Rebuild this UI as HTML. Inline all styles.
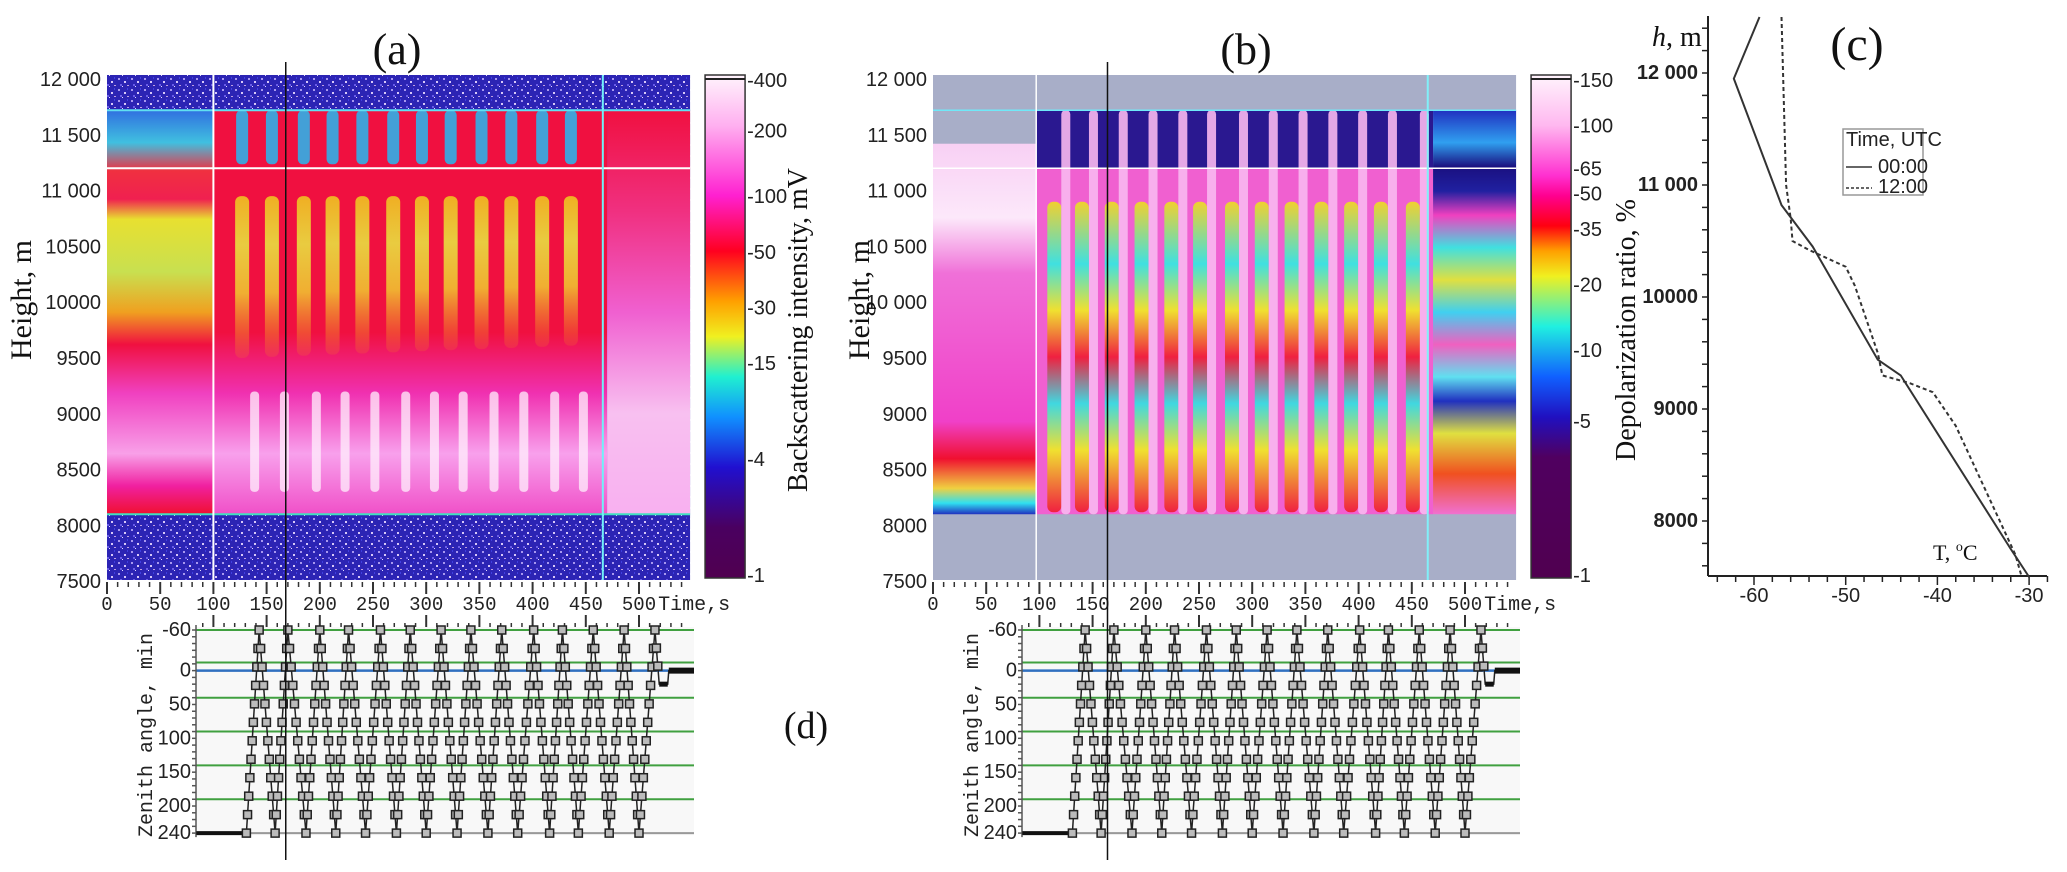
<!DOCTYPE html>
<html><head><meta charset="utf-8"><style>
body{margin:0;background:#fff;}
svg{display:block;}
.tk{font-family:"Liberation Sans",sans-serif;font-size:20px;fill:#222;}
.mono{font-family:"Liberation Mono",monospace;fill:#222;}
.serif{font-family:"Liberation Serif",serif;fill:#111;}
</style></head><body>
<svg id="fig" width="2067" height="872" viewBox="0 0 2067 872" xmlns="http://www.w3.org/2000/svg">
<defs>
<pattern id="noise" width="13" height="11" patternUnits="userSpaceOnUse">
<rect width="13" height="11" fill="#2c24b4"/>
<rect x="1" y="1" width="2" height="2" fill="#a898f0"/>
<rect x="7" y="4" width="2" height="2" fill="#d8c8f8"/>
<rect x="3" y="7" width="2" height="2" fill="#6a5ce8"/>
<rect x="10" y="8" width="2" height="1" fill="#c0a0e0"/>
<rect x="10" y="0" width="1" height="2" fill="#4040e0"/>
<rect x="5" y="9" width="1" height="1" fill="#e0d8ff"/>
</pattern>
<linearGradient id="cbA" x1="0" y1="0" x2="0" y2="1">
<stop offset="0" stop-color="#fff4fc"/><stop offset="0.1" stop-color="#ffb0f0"/><stop offset="0.24" stop-color="#ff20d0"/>
<stop offset="0.35" stop-color="#ff0020"/><stop offset="0.45" stop-color="#ffa000"/><stop offset="0.52" stop-color="#f0f020"/>
<stop offset="0.6" stop-color="#20f0d0"/><stop offset="0.68" stop-color="#1090ff"/><stop offset="0.78" stop-color="#2010d0"/>
<stop offset="0.9" stop-color="#4a0060"/><stop offset="1" stop-color="#500050"/></linearGradient>
<linearGradient id="cbB" x1="0" y1="0" x2="0" y2="1">
<stop offset="0" stop-color="#fff4fc"/><stop offset="0.1" stop-color="#ffb8f0"/><stop offset="0.2" stop-color="#ff30d0"/>
<stop offset="0.24" stop-color="#ff0090"/><stop offset="0.3" stop-color="#ff0010"/><stop offset="0.35" stop-color="#ffa000"/>
<stop offset="0.4" stop-color="#f0f020"/><stop offset="0.5" stop-color="#20f0e0"/><stop offset="0.6" stop-color="#1060ff"/>
<stop offset="0.68" stop-color="#2010c0"/><stop offset="0.76" stop-color="#500060"/><stop offset="1" stop-color="#500050"/></linearGradient>
<linearGradient id="aLeft" x1="0" y1="0" x2="0" y2="1">
<stop offset="0" stop-color="#3070e0"/><stop offset="0.08" stop-color="#40c0e0"/><stop offset="0.15" stop-color="#f03040"/>
<stop offset="0.22" stop-color="#f02050"/><stop offset="0.27" stop-color="#e8e030"/><stop offset="0.4" stop-color="#c8e050"/>
<stop offset="0.5" stop-color="#f0a020"/><stop offset="0.58" stop-color="#f01040"/><stop offset="0.7" stop-color="#f040c0"/>
<stop offset="0.85" stop-color="#f8a0e8"/><stop offset="0.93" stop-color="#f020a0"/><stop offset="1" stop-color="#f01030"/></linearGradient>
<linearGradient id="aMid" x1="0" y1="0" x2="0" y2="1">
<stop offset="0" stop-color="#f01040"/><stop offset="0.55" stop-color="#f01040"/><stop offset="0.7" stop-color="#f030b0"/>
<stop offset="0.85" stop-color="#f8a0ec"/><stop offset="1" stop-color="#f050c8"/></linearGradient>
<linearGradient id="aRight" x1="0" y1="0" x2="0" y2="1">
<stop offset="0" stop-color="#f01040"/><stop offset="0.25" stop-color="#f03080"/><stop offset="0.5" stop-color="#f060d0"/>
<stop offset="0.75" stop-color="#f8c0f0"/><stop offset="1" stop-color="#f8b0f0"/></linearGradient>
<linearGradient id="bLeft" x1="0" y1="0" x2="0" y2="1">
<stop offset="0" stop-color="#f8d0f4"/><stop offset="0.2" stop-color="#fce8fa"/><stop offset="0.35" stop-color="#f070d8"/>
<stop offset="0.75" stop-color="#f040c8"/><stop offset="0.85" stop-color="#f01030"/><stop offset="0.93" stop-color="#f0d040"/>
<stop offset="0.97" stop-color="#30e0f0"/><stop offset="1" stop-color="#2030c0"/></linearGradient>
<linearGradient id="bRight" x1="0" y1="0" x2="0" y2="1">
<stop offset="0" stop-color="#2030c0"/><stop offset="0.08" stop-color="#30a0f0"/><stop offset="0.14" stop-color="#1a1080"/>
<stop offset="0.2" stop-color="#2020a0"/><stop offset="0.26" stop-color="#f040c0"/><stop offset="0.34" stop-color="#40e0e0"/>
<stop offset="0.42" stop-color="#e0e040"/><stop offset="0.5" stop-color="#40d0f0"/><stop offset="0.58" stop-color="#f060c0"/>
<stop offset="0.66" stop-color="#60e0f0"/><stop offset="0.72" stop-color="#2030c0"/><stop offset="0.8" stop-color="#e0e040"/>
<stop offset="0.9" stop-color="#f05020"/><stop offset="1" stop-color="#f070d0"/></linearGradient>
<linearGradient id="colA" x1="0" y1="0" x2="0" y2="1">
<stop offset="0" stop-color="#f0c020"/><stop offset="0.3" stop-color="#e8e040"/><stop offset="0.6" stop-color="#f0c030"/><stop offset="1" stop-color="#f08020" stop-opacity="0.2"/></linearGradient>
<linearGradient id="colB" x1="0" y1="0" x2="0" y2="1">
<stop offset="0" stop-color="#f0d030"/><stop offset="0.2" stop-color="#40e0e0"/><stop offset="0.35" stop-color="#f0e030"/>
<stop offset="0.5" stop-color="#f02040"/><stop offset="0.65" stop-color="#40d8e0"/><stop offset="0.8" stop-color="#f0e030"/><stop offset="1" stop-color="#f02040"/></linearGradient>
</defs>
<g id="layer"></g>
</svg>
<script>
// ---- data ----
const timeTicks = [0,50,100,150,200,250,300,350,400,450,500];
const heightTicksA = ["12 000","11 500","11 000","10500","10000","9500","9000","8500","8000","7500"];
const heightTicksB = ["12 000","11 500","11 000","10 500","10 000","9500","9000","8500","8000","7500"];
const heightVals = [12000,11500,11000,10500,10000,9500,9000,8500,8000,7500];
const colTimesA = [127,155,185,212,240,269,296,323,352,380,409,436];
const colTimesB = [114,140,168,196,224,251,281,309,337,365,393,421,451];
const cbLabelsA = ["-400","-200","-100","-50","-30","-15","-4","-1"];
const cbFracA = [0.01,0.11,0.24,0.35,0.46,0.57,0.76,0.99];
const cbLabelsB = ["-150","-100","-65","-50","-35","-20","-10","-5","-1"];
const cbFracB = [0.01,0.10,0.185,0.235,0.305,0.415,0.545,0.685,0.99];
const zenTimes = [84,131,143,158,170,187,200,215,227,243,257,272,285,300,314,329,342,358,371,386,401,416,428,443,457,472,486,500,515,519,527,528,548];
const zenVals  = [240,240,-60,240,-60,240,-60,240,-60,240,-60,240,-60,240,-60,240,-60,240,-60,240,-60,240,-60,240,-60,240,-60,240,-60,20,20,0,0];
const zenTicks = [-60,0,50,100,150,200,240];
const greenLevels = [-60,-12,40,90,140,190];
const tempTicks = [-60,-50,-40,-30];
const hTicksC = [12000,11000,10000,9000,8000];
const hLabelsC = ["12 000","11 000","10000","9000","8000"];
const t00 = [-59.4,-62.2,-57,-53.6,-46.5,-44,-32,-30];
const h00 = [12500,11950,10820,10450,9440,9300,7750,7500];
const t12 = [-57,-56.5,-56,-55.8,-54,-50,-49,-46.5,-46,-43,-40.5,-38,-31.5,-30.8];
const h12 = [12500,11000,10700,10500,10420,10270,10100,9500,9300,9230,9150,8850,7700,7500];
const cursorA = 168, cursorB = 164;

// ---- helpers ----
const NS="http://www.w3.org/2000/svg";
const layer=document.getElementById('layer');
function mk(tag,attrs,parent){const e=document.createElementNS(NS,tag);for(const k in attrs)e.setAttribute(k,attrs[k]);(parent||layer).appendChild(e);return e;}
function txt(s,x,y,cls,extra,parent){const e=mk('text',Object.assign({x:x,y:y,class:cls},extra||{}),parent);e.textContent=s;return e;}
const OFF=[0,826];
const xT=(p,t)=>107+OFF[p]+t*1.064;
const yH=h=>79+(12000-h)*0.1116;
const yZ=z=>630+(z+60)*0.677;
const xC=T=>1754+(T+60)*9.17;
const yC=h=>521-(h-8000)*0.112;

// ---- heatmap panels ----
for(let p=0;p<2;p++){
  const g=mk('g',{});
  
  
  const L=xT(p,0), R=xT(p,548), T=75, B=580;
  const yTop=yH(11720), yLine=yH(11200), yBot=yH(8100);
  if(p===0){
    mk('rect',{x:L,y:T,width:R-L,height:B-T,fill:'url(#noise)'},g);
    mk('rect',{x:L,y:yTop,width:xT(0,100)-L,height:yBot-yTop,fill:'url(#aLeft)'},g);
    mk('rect',{x:xT(0,100),y:yTop,width:xT(0,470)-xT(0,100),height:yBot-yTop,fill:'url(#aMid)'},g);
    mk('rect',{x:xT(0,470),y:yTop,width:R-xT(0,470),height:yBot-yTop,fill:'url(#aRight)'},g);
    colTimesA.forEach((t,i)=>{
      const cx=xT(0,t);
      const c=mk('rect',{x:cx-7,y:yH(10950),width:14,height:yH(9500+i*10)-yH(10950),rx:6,fill:'url(#colA)',opacity:0.9},g);
      
      const b=mk('rect',{x:cx-6,y:yTop,width:12,height:yLine-yTop-4,rx:5,fill:'#30b0e8',opacity:0.9},g);
      
      const w=mk('rect',{x:cx+8,y:yH(9200),width:9,height:yH(8300)-yH(9200),rx:4,fill:'#fff0fc',opacity:0.75},g);
      
    });
    mk('line',{x1:L,y1:yTop,x2:R,y2:yTop,stroke:'#60e0f0','stroke-width':2},g);
    mk('line',{x1:L,y1:yBot,x2:R,y2:yBot,stroke:'#40e0c0','stroke-width':2},g);
    mk('line',{x1:L,y1:yLine,x2:R,y2:yLine,stroke:'#fff','stroke-width':2},g);
    mk('line',{x1:xT(0,100),y1:T,x2:xT(0,100),y2:B,stroke:'#fff','stroke-width':2},g);
    mk('line',{x1:xT(0,466),y1:T,x2:xT(0,466),y2:B,stroke:'#70f0f8','stroke-width':2},g);
  } else {
    mk('rect',{x:L,y:T,width:R-L,height:B-T,fill:'#a8aec8'},g);
    mk('rect',{x:L,y:yH(11420),width:xT(1,97)-L,height:yBot-yH(11420),fill:'url(#bLeft)'},g);
    mk('rect',{x:xT(1,97),y:yTop,width:xT(1,470)-xT(1,97),height:yBot-yTop,fill:'#f060d0'},g);
    mk('rect',{x:xT(1,97),y:yTop,width:xT(1,470)-xT(1,97),height:yLine-yTop,fill:'#2a1890'},g);
    mk('rect',{x:xT(1,470),y:yTop,width:R-xT(1,470),height:yBot-yTop,fill:'url(#bRight)'},g);
    colTimesB.forEach(t=>{
      const cx=xT(1,t);
      const c=mk('rect',{x:cx-7,y:yH(10900),width:14,height:yBot-yH(10900)-2,rx:6,fill:'url(#colB)'},g);
      
      const pk=mk('rect',{x:cx+7,y:yTop,width:9,height:yBot-yTop,rx:4,fill:'#f8b8f0',opacity:0.9},g);
      
    });
    mk('line',{x1:L,y1:yTop,x2:R,y2:yTop,stroke:'#70e8f8','stroke-width':1.5},g);
    mk('line',{x1:L,y1:yLine,x2:R,y2:yLine,stroke:'#fff','stroke-width':1.5},g);
    mk('line',{x1:xT(1,97),y1:T,x2:xT(1,97),y2:B,stroke:'#fff','stroke-width':1.5},g);
    mk('line',{x1:xT(1,465),y1:T,x2:xT(1,465),y2:B,stroke:'#80f0f8','stroke-width':2},g);
  }
  for(let t=0;t<=540;t+=10){
    const x=xT(p,t), major=(t%50===0);
    mk('line',{x1:x,y1:582,x2:x,y2:major?594:587,stroke:'#333','stroke-width':major?2:1.5},g);
  }
  timeTicks.forEach(t=>{const e=txt(String(t),xT(p,t),610,'mono',{'font-size':19,'text-anchor':'middle'});
    });
  const tl=txt('Time,s',xT(p,518),610,'mono',{'font-size':20});
  
  const labs=p?heightTicksB:heightTicksA;
  heightVals.forEach((h,i)=>{const e=txt(labs[i],L-6,yH(h)+7,'tk',{'text-anchor':'end'});
    });
  const yl=txt('Height, m',L-(p?64:76),300,'serif',{'font-size':30,'text-anchor':'middle',transform:`rotate(-90 ${L-(p?64:76)} 300)`});
  
  const cx0=R+15, cw=40;
  const cb=mk('rect',{x:cx0,y:T,width:cw,height:B-T-2,fill:p?'url(#cbB)':'url(#cbA)',stroke:'#333','stroke-width':1.5});
  
  mk('line',{x1:cx0,y1:T+4,x2:cx0+cw,y2:T+4,stroke:'#222','stroke-width':2});
  const cl=p?cbLabelsB:cbLabelsA, cf=p?cbFracB:cbFracA;
  cl.forEach((s,i)=>{const e=txt(s,cx0+cw+2,T+cf[i]*(B-T)+7,'tk',{'font-size':18});
    });
  const ctx=cx0+cw+(p?64:62);
  const ct=txt(p?'Depolarization ratio, %':'Backscattering intensity, mV',ctx,330,'serif',{'font-size':28,'text-anchor':'middle',transform:`rotate(-90 ${ctx} 330)`});
  
  const pt=txt(p?'(b)':'(a)',p?1246:397,64,'serif',{'font-size':44,'text-anchor':'middle'});
  

  const zg=mk('g',{});
  
  
  const zl=196+OFF[p], zr=694+OFF[p];
  mk('rect',{x:zl,y:627,width:zr-zl,height:yZ(240)-627+2,fill:'#f8f8f8'},zg);
  greenLevels.forEach(z=>mk('line',{x1:zl,y1:yZ(z),x2:zr,y2:yZ(z),stroke:'#40a040','stroke-width':2},zg));
  mk('line',{x1:zl,y1:yZ(0),x2:zr,y2:yZ(0),stroke:'#3070c0','stroke-width':2.5},zg);
  mk('line',{x1:zl,y1:yZ(240),x2:zr,y2:yZ(240),stroke:'#999','stroke-width':2},zg);
  mk('line',{x1:zl,y1:625,x2:zl,y2:yZ(240)+4,stroke:'#555','stroke-width':1.5},zg);
  for(let z=-60;z<=240;z+=10){mk('line',{x1:zl-4,y1:yZ(z),x2:zl,y2:yZ(z),stroke:'#555','stroke-width':1.5},zg);}
  zenTicks.forEach(z=>{const e=txt(String(z),zl-5,yZ(z)+6,'tk',{'font-size':16,'text-anchor':'end'},zg);
    });
  for(let t=90;t<=540;t+=10){const x=xT(p,t),major=t%50===0;
    mk('line',{x1:x,y1:major?615:623,x2:x,y2:627,stroke:'#333','stroke-width':major?2:1.5},zg);}
  const zt=txt('Zenith angle, min',zl-44,735,'mono',{'font-size':20,'text-anchor':'middle',transform:`rotate(-90 ${zl-44} 735)`},zg);
  
  const pts=zenTimes.map((t,i)=>xT(p,t)+','+yZ(zenVals[i])).join(' ');
  const pl=mk('polyline',{points:pts,fill:'none',stroke:'#222','stroke-width':1.5},zg);
  
  mk('line',{x1:xT(p,zenTimes[0]),y1:yZ(240),x2:xT(p,zenTimes[1]),y2:yZ(240),stroke:'#111','stroke-width':4},zg);
  mk('line',{x1:xT(p,528),y1:yZ(0),x2:zr,y2:yZ(0),stroke:'#111','stroke-width':6},zg);
  mk('line',{x1:xT(p,519),y1:yZ(20),x2:xT(p,527),y2:yZ(20),stroke:'#111','stroke-width':5},zg);
  for(let i=1;i<zenTimes.length-4;i++){
    const x0=xT(p,zenTimes[i]),y0=yZ(zenVals[i]),x1=xT(p,zenTimes[i+1]),y1=yZ(zenVals[i+1]);
    const n=Math.max(1,Math.round(Math.abs(y1-y0)/19));
    for(let k=0;k<n;k++){const f=k/n;
      const m=mk('rect',{x:x0+(x1-x0)*f-4,y:y0+(y1-y0)*f-4,width:8,height:8,fill:'#bbb',stroke:'#222','stroke-width':1.5},zg);
      }
  }
  const cur=p?cursorB:cursorA;
  const cl2=mk('line',{x1:xT(p,cur),y1:62,x2:xT(p,cur),y2:860,stroke:'#111','stroke-width':1.5});
  
}
const dl=txt('(d)',806,738,'serif',{'font-size':38,'text-anchor':'middle'});


// ---- panel c ----
const cg=mk('g',{});


mk('line',{x1:1708,y1:16,x2:1708,y2:576,stroke:'#222','stroke-width':2},cg);
mk('line',{x1:1708,y1:576,x2:2047,y2:576,stroke:'#222','stroke-width':2},cg);
for(let h=7600;h<=12400;h+=200){mk('line',{x1:1702,y1:yC(h),x2:1708,y2:yC(h),stroke:'#222','stroke-width':1.5},cg);}
for(let T=-64;T<=-28;T+=2){const maj=T%10===0;mk('line',{x1:xC(T),y1:576,x2:xC(T),y2:maj?585:582,stroke:'#222','stroke-width':1.5},cg);}
hTicksC.forEach((h,i)=>{const e=txt(hLabelsC[i],1698,yC(h)+6,'tk',{'font-size':15,'font-weight':'bold','text-anchor':'end'},cg);
  });
tempTicks.forEach(T=>{const e=txt(String(T),xC(T),602,'tk',{'font-size':16,'text-anchor':'middle'},cg);
  });
const s00=mk('polyline',{points:t00.map((T,i)=>xC(T)+','+yC(h00[i])).join(' '),fill:'none',stroke:'#333','stroke-width':2},cg);

const s12=mk('polyline',{points:t12.map((T,i)=>xC(T)+','+yC(h12[i])).join(' '),fill:'none',stroke:'#333','stroke-width':2,'stroke-dasharray':'4,3'},cg);

const hm=txt('',1652,46,'serif',{'font-size':28},cg);
hm.innerHTML='<tspan font-style="italic">h</tspan>, m';

const cc=txt('(c)',1857,60,'serif',{'font-size':48,'text-anchor':'middle'},cg);

const tc=txt('',1933,560,'serif',{'font-size':22},cg);
tc.innerHTML='T, <tspan font-size="14" dy="-9">o</tspan><tspan dy="9">C</tspan>';

const lg=mk('g',{},cg);


mk('rect',{x:1843,y:129,width:80,height:66,fill:'#fff',stroke:'#999','stroke-width':1.5},lg);
txt('Time, UTC',1846,146,'tk',{'font-size':12},lg);
mk('line',{x1:1846,y1:167,x2:1872,y2:167,stroke:'#333','stroke-width':1.5},lg);
txt('00:00',1878,173,'tk',{'font-size':14},lg);
mk('line',{x1:1846,y1:188,x2:1872,y2:188,stroke:'#333','stroke-width':1.5,'stroke-dasharray':'3,2'},lg);
txt('12:00',1878,193,'tk',{'font-size':14},lg);
</script>
</body></html>
